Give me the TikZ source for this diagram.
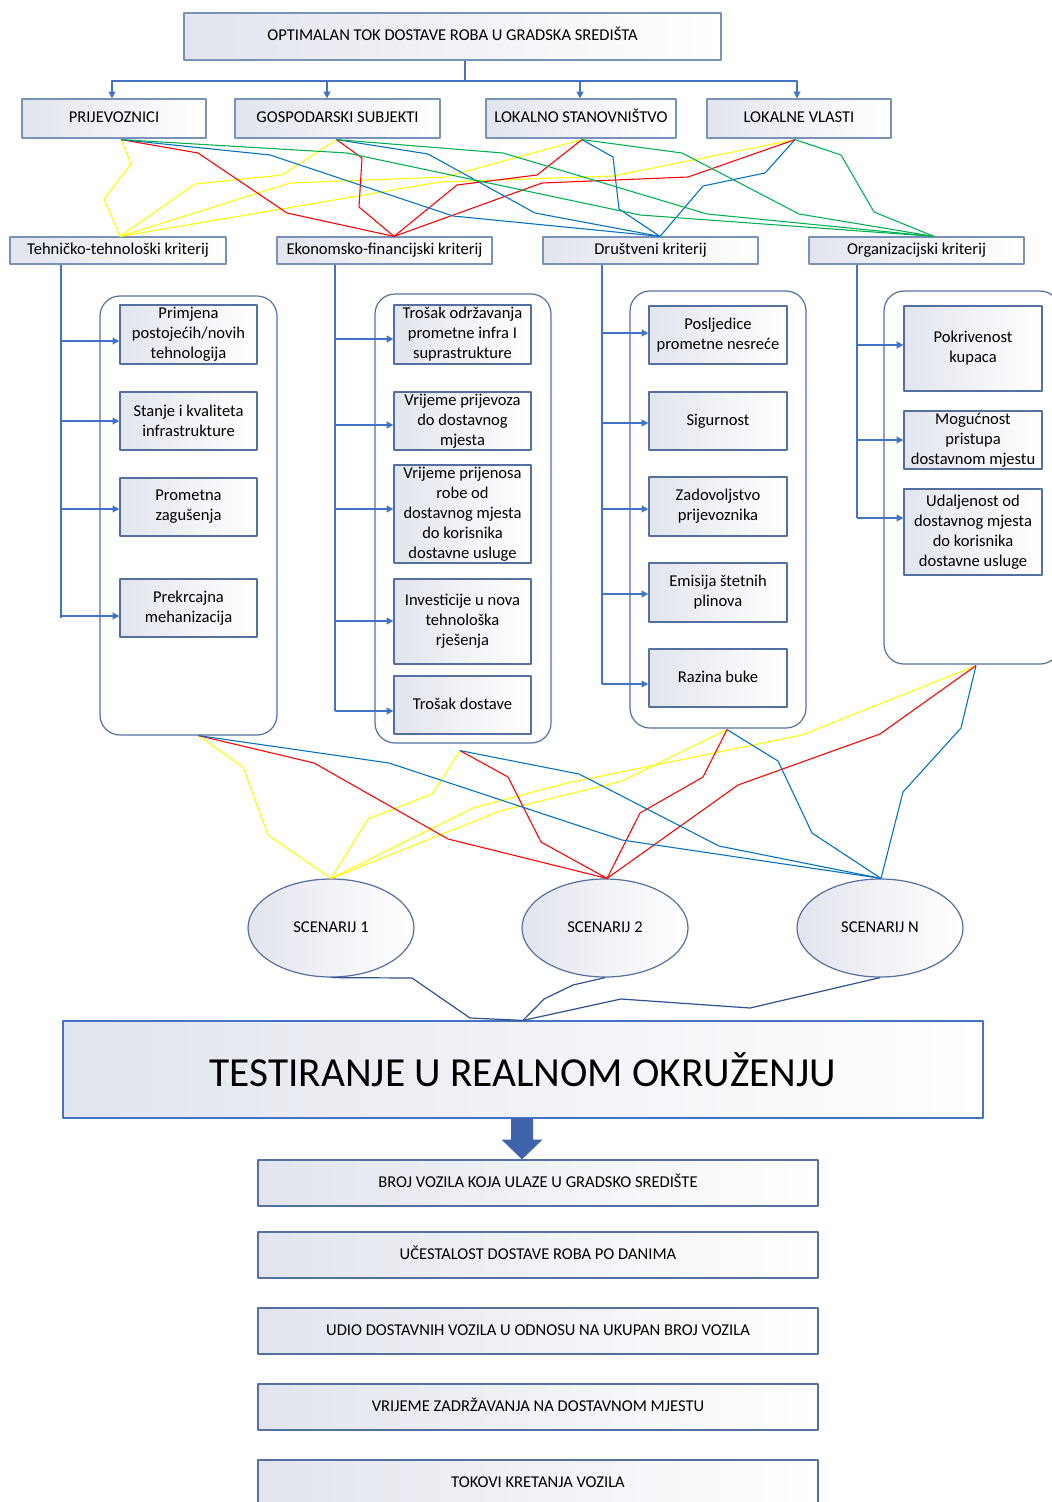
\documentclass[tikz,border=0pt]{standalone}
\usepackage{fontspec}
\setmainfont{Carlito}
\usetikzlibrary{arrows.meta,shapes.geometric,calc}
\definecolor{bord}{RGB}{84,112,160}
\definecolor{bordlt}{RGB}{120,146,186}
\definecolor{connc}{RGB}{68,114,196}
\definecolor{ylw}{RGB}{255,255,0}
\definecolor{rd}{RGB}{255,0,0}
\definecolor{bl}{RGB}{0,112,192}
\definecolor{gr}{RGB}{0,176,80}
\definecolor{dk}{RGB}{47,82,143}
\definecolor{shd}{RGB}{226,229,237}
\definecolor{bigarrc}{RGB}{63,100,172}
\tikzset{
  box/.style={draw=bord, line width=0.9pt, left color=shd, right color=white, inner sep=0pt, align=center},
  one/.style={text height=9pt, text depth=3pt},
  topbox/.style={box, one, draw=bordlt},
  cont/.style={draw=bord, line width=0.9pt, rounded corners=15pt, inner sep=0pt},
  scen/.style={ellipse, draw=bord, line width=0.9pt, left color=shd, right color=white, inner sep=0pt, minimum width=124.5pt, minimum height=73.5pt},
  trunk/.style={draw=connc, line width=1.1pt},
  arr/.style={trunk, -{Triangle[length=5pt,width=5pt]}},
  lny/.style={draw=ylw, line width=0.8pt},
  lnr/.style={draw=rd, line width=0.8pt},
  lnb/.style={draw=bl, line width=0.8pt},
  lng/.style={draw=gr, line width=0.8pt},
  lnd/.style={draw=dk, line width=0.9pt},
}
% #1 style, #2 name, #3 x1, #4 y1, #5 x2, #6 y2, #7 text  (pixel units)
\newcommand\mknode[7]{\node[#1, minimum width={(#5-#3)*0.75pt}, minimum height={(#6-#4)*0.75pt}] (#2) at ({(#3+#5)/2},{(#4+#6)/2}) {#7};}
\begin{document}
\begin{tikzpicture}[x=0.75pt, y=-0.75pt, font=\fontsize{12.4}{15}\selectfont, line join=round]
\useasboundingbox (0,0) rectangle (1052,1502);
\clip (0,0) rectangle (1052,1502);

% ---------- top level ----------
\mknode{topbox}{top}{184}{13}{721}{60}{OPTIMALAN TOK DOSTAVE ROBA U GRADSKA SREDIŠTA}
\mknode{topbox}{p}{22}{99}{206}{138}{PRIJEVOZNICI}
\mknode{topbox}{g}{235}{99}{440}{138}{GOSPODARSKI SUBJEKTI}
\mknode{topbox}{l}{486}{99}{676}{138}{LOKALNO STANOVNIŠTVO}
\mknode{topbox}{v}{707}{99}{891}{138}{LOKALNE VLASTI}

\coordinate (hub) at (465,81);
\draw[trunk] (top.south -| hub) -- (hub);
\draw[arr] (hub) -| (p.north -| 112,0);
\draw[arr] (hub) -| (g.north -| 327,0);
\draw[arr] (hub) -| (l.north -| 580,0);
\draw[arr] (hub) -| (v.north -| 797,0);

% ---------- criteria ----------
\mknode{topbox}{tk}{10}{237}{226}{264}{Tehničko-tehnološki kriterij}
\mknode{topbox}{ek}{277}{237}{492}{264}{Ekonomsko-financijski kriterij}
\mknode{topbox}{dr}{543}{237}{758}{264}{Društveni kriterij}
\mknode{topbox}{og}{809}{237}{1024}{264}{Organizacijski kriterij}

\coordinate (pB) at ($(p.south)+(7,1)$);
\coordinate (gB) at ($(g.south)+(-1,1)$);
\coordinate (lB) at ($(l.south)+(1,1)$);
\coordinate (vB) at ($(v.south)+(-4,1)$);
\coordinate (tT) at ($(tk.north)+(2,0)$);
\coordinate (eT) at ($(ek.north)+(9.5,0)$);
\coordinate (dT) at ($(dr.north)+(9.5,0)$);
\coordinate (oT) at ($(og.north)+(17.5,0)$);

\draw[lny] (pB) -- (131,164) -- (104,199) -- (tT);
\draw[lny] (gB) -- (282,175) -- (195,184) -- (tT);
\draw[lny] (lB) -- (445,177) -- (290,183) -- (tT);
\draw[lny] (vB) -- (613,176) -- (440,182) -- (tT);

\draw[lnr] (pB) -- (198,153) -- (287,213) -- (eT);
\draw[lnr] (gB) -- (362,158) -- (359,207) -- (eT);
\draw[lnr] (lB) -- (537,175) -- (457,185) -- (eT);
\draw[lnr] (vB) -- (688,177) -- (542,183) -- (eT);

\draw[lnb] (pB) -- (270,155) -- (453,216) -- (dT);
\draw[lnb] (gB) -- (428,154) -- (535,213) -- (dT);
\draw[lnb] (lB) -- (613,157) -- (619,209) -- (dT);
\draw[lnb] (vB) -- (765,173) -- (703,186) -- (dT);

\draw[lng] (pB) -- (347,153) -- (640,215) -- (oT);
\draw[lng] (gB) -- (503,153) -- (707,214) -- (oT);
\draw[lng] (lB) -- (682,153) -- (799,214) -- (oT);
\draw[lng] (vB) -- (841,155) -- (874,212) -- (oT);

% ---------- containers ----------
\mknode{cont}{ct}{100}{296}{277}{735}{}
\mknode{cont}{ce}{375}{294}{551}{743}{}
\mknode{cont}{cd}{630}{291}{806}{728}{}
\mknode{cont}{co}{884}{291}{1060}{664}{}

% ---------- inner boxes ----------
\mknode{box}{t1}{120}{305}{257}{364}{Primjena\\postojećih/novih\\tehnologija}
\mknode{box}{t2}{120}{392}{257}{450}{Stanje i kvaliteta\\infrastrukture}
\mknode{box}{t3}{120}{478}{257}{536}{Prometna\\zagušenja}
\mknode{box}{t4}{120}{579}{257}{637}{Prekrcajna\\mehanizacija}

\mknode{box}{e1}{394}{305}{531}{364}{Trošak održavanja\\prometne infra I\\suprastrukture}
\mknode{box}{e2}{394}{392}{531}{450}{Vrijeme prijevoza\\do dostavnog\\mjesta}
\mknode{box}{e3}{394}{465}{531}{563}{Vrijeme prijenosa\\robe od\\dostavnog mjesta\\do korisnika\\dostavne usluge}
\mknode{box}{e4}{394}{579}{531}{664}{Investicije u nova\\tehnološka\\rješenja}
\mknode{box, one}{e5}{394}{676}{531}{734}{Trošak dostave}

\mknode{box}{d1}{649}{306}{787}{364}{Posljedice\\prometne nesreće}
\mknode{box, one}{d2}{649}{392}{787}{450}{Sigurnost}
\mknode{box}{d3}{649}{477}{787}{536}{Zadovoljstvo\\prijevoznika}
\mknode{box}{d4}{649}{563}{787}{622}{Emisija štetnih\\plinova}
\mknode{box, one}{d5}{649}{649}{787}{707}{Razina buke}

\mknode{box}{o1}{904}{306}{1042}{391}{Pokrivenost\\kupaca}
\mknode{box}{o2}{904}{411}{1042}{469}{Mogućnost\\pristupa\\dostavnom mjestu}
\mknode{box}{o3}{904}{489}{1042}{575}{Udaljenost od\\dostavnog mjesta\\do korisnika\\dostavne usluge}

% ---------- trunks ----------
\draw[trunk] (tk.south -| 61,0) -- (61,618);
\draw[arr] (61,341) -- (t1.west |- 0,341);
\draw[arr] (61,421) -- (t2.west |- 0,421);
\draw[arr] (61,509) -- (t3.west |- 0,509);
\draw[arr] (61,616) -- (t4.west |- 0,616);

\draw[trunk] (ek.south -| 335,0) -- (335,711);
\draw[arr] (335,339) -- (e1.west |- 0,339);
\draw[arr] (335,425) -- (e2.west |- 0,425);
\draw[arr] (335,509) -- (e3.west |- 0,509);
\draw[arr] (335,621) -- (e4.west |- 0,621);
\draw[arr] (335,711) -- (e5.west |- 0,711);

\draw[trunk] (dr.south -| 602,0) -- (602,684);
\draw[arr] (602,333) -- (d1.west |- 0,333);
\draw[arr] (602,423) -- (d2.west |- 0,423);
\draw[arr] (602,509) -- (d3.west |- 0,509);
\draw[arr] (602,594) -- (d4.west |- 0,594);
\draw[arr] (602,684) -- (d5.west |- 0,684);

\draw[trunk] (og.south -| 857,0) -- (857,518);
\draw[arr] (857,345) -- (o1.west |- 0,345);
\draw[arr] (857,440) -- (o2.west |- 0,440);
\draw[arr] (857,518) -- (o3.west |- 0,518);

% ---------- scenarios ----------
\node[scen, one] (s1) at (331,928) {SCENARIJ 1};
\node[scen, one] (s2) at (605,928) {SCENARIJ 2};
\node[scen, one] (sn) at (880,928) {SCENARIJ N};

\coordinate (ctB) at ($(ct.south)+(10,0)$);
\coordinate (ceB) at ($(ce.south)+(-3,7)$);
\coordinate (cdB) at ($(cd.south)+(9,1)$);
\coordinate (coB) at ($(co.south)+(4,1)$);
\coordinate (s2T) at ($(s2.north)+(2,0)$);
\coordinate (snT) at ($(sn.north)+(1,0)$);

\draw[lny] (ctB) -- (243,767) -- (268,835) -- (s1.north);
\draw[lny] (ceB) -- (432,794) -- (368,819) -- (s1.north);
\draw[lny] (cdB) -- (622,781) -- (500,811) -- (s1.north);
\draw[lny] (coB) -- (802,735) -- (567,783) -- (473,808) -- (s1.north);

\draw[lnr] (ctB) -- (314,763) -- (448,839) -- (s2T);
\draw[lnr] (ceB) -- (508,777) -- (541,842) -- (s2T);
\draw[lnr] (cdB) -- (703,777) -- (640,813) -- (s2T);
\draw[lnr] (coB) -- (880,734) -- (738,785) -- (s2T);

\draw[lnb] (ctB) -- (389,763) -- (622,840) -- (snT);
\draw[lnb] (ceB) -- (579,774) -- (719,846) -- (snT);
\draw[lnb] (cdB) -- (778,761) -- (812,833) -- (snT);
\draw[lnb] (coB) -- (961,728) -- (903,792) -- (snT);

% ---------- testing ----------
\mknode{box, draw=connc, font=\fontsize{31}{36}\selectfont}{tst}{63}{1021}{983}{1118}{TESTIRANJE U REALNOM OKRUŽENJU}

\coordinate (tstT) at (tst.north);
\draw[lnd] (s1.south) -- (412,978) -- (470,1018) -- (tstT);
\draw[lnd] (s2.south) -- (573,985) -- (544,999) -- (tstT);
\draw[lnd] (sn.south) -- (750,1008) -- (621,999) -- (tstT);

\mknode{box, one}{b1}{258}{1160}{818}{1206}{BROJ VOZILA KOJA ULAZE U GRADSKO SREDIŠTE}
\mknode{box, one}{b2}{258}{1232}{818}{1278}{UČESTALOST DOSTAVE ROBA PO DANIMA}
\mknode{box, one}{b3}{258}{1308}{818}{1354}{UDIO DOSTAVNIH VOZILA U ODNOSU NA UKUPAN BROJ VOZILA}
\mknode{box, one}{b4}{258}{1384}{818}{1430}{VRIJEME ZADRŽAVANJA NA DOSTAVNOM MJESTU}
\mknode{box, one}{b5}{258}{1460}{818}{1506}{TOKOVI KRETANJA VOZILA}

\coordinate (ab) at ($(tst.south)+(-1,0)$);
\fill[bigarrc] ($(ab)+(-11,0)$) -- ($(ab)+(-11,21)$) -- ($(ab)+(-20.5,21)$) -- (ab |- b1.north) -- ($(ab)+(20.5,21)$) -- ($(ab)+(11,21)$) -- ($(ab)+(11,0)$) -- cycle;

\end{tikzpicture}
\end{document}
